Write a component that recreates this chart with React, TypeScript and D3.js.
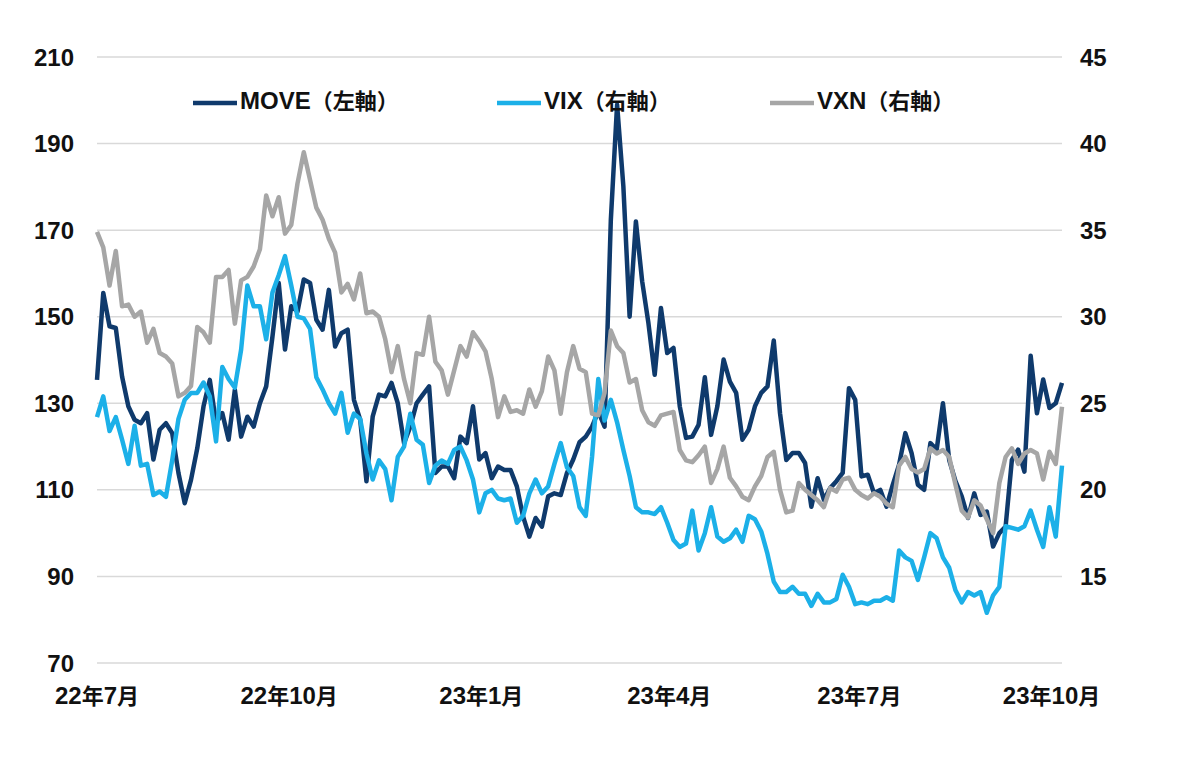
import * as d3 from 'd3';
import * as React from 'react';

// 3-day samples from 2022/7/1
const moveValues = [
  135.4, 155.5, 147.8, 147.4, 136.2, 129.3, 126.2, 125.4, 127.7, 117, 123.9, 125.4, 123.1, 113.9, 106.9,
  112.3, 119.6, 129.3, 135.4, 125.4, 127.7, 121.6, 133.1, 122.3, 126.9, 124.6, 130, 133.9, 145.4, 157.8,
  142.4, 152.4, 151.2, 158.6, 157.8, 149.3, 147, 156.2, 143.1, 146.2, 147, 130.8, 126.2, 112, 127,
  132, 131.6, 134.7, 130, 120.8, 124.6, 130, 132, 133.9, 113.9, 115.4, 115.4, 112.7, 122.3, 120.8,
  129.3, 117, 118.5, 112.7, 115.4, 114.6, 114.6, 110.8, 103.8, 99.2, 103.5, 101.5, 108.5, 109.2, 108.8,
  113.9, 117, 121, 122.3, 124.6, 128.1, 124.6, 172.4, 199, 180.1, 150, 172, 158.2, 148.5, 136.6,
  152, 141.6, 142.8, 129.3, 122, 122.3, 125, 136, 122.7, 129.3, 140.1, 135, 132.4, 121.6, 123.9,
  129.3, 132.4, 133.9, 144.5, 127.7, 116.9, 118.5, 118.5, 116.2, 106.1, 112.7, 107.7, 110.4, 112, 113.9,
  133.5, 130.8, 113.1, 113.5, 109.2, 110, 106.1, 111.2, 115.8, 123.1, 118.5, 111.2, 110, 120.8, 119.3,
  130, 116.9, 112, 108.5, 103.5, 109.2, 104.2, 105, 96.9, 100, 101.5, 116.9, 119.3, 114.2, 141,
  127.7, 135.5, 128.9, 130, 134.7,
];

const vixValues = [
  24.2, 25.4, 23.4, 24.2, 22.9, 21.5, 23.7, 21.4, 21.5, 19.7, 19.9, 19.6, 21.7, 24.1, 25.2,
  25.6, 25.6, 26.2, 25.4, 22.8, 27.1, 26.4, 25.9, 28.1, 31.8, 30.6, 30.6, 28.7, 31.4, 32.4,
  33.5, 31.8, 30.0, 29.9, 29.3, 26.5, 25.8, 25.0, 24.4, 25.6, 23.3, 24.4, 24.1, 22.1, 20.6,
  21.7, 21.2, 19.4, 21.9, 22.5, 24.4, 22.9, 22.6, 20.4, 21.4, 21.7, 21.5, 22.3, 22.5, 21.7,
  20.6, 18.7, 19.8, 20.0, 19.5, 19.4, 19.5, 18.1, 18.5, 19.8, 20.6, 19.8, 20.2, 21.5, 22.7,
  21.3, 20.8, 19.0, 18.5, 21.9, 26.4, 24.0, 25.2, 23.9, 22.3, 20.8, 19.0, 18.7, 18.7, 18.6,
  19.0, 18.1, 17.1, 16.7, 16.9, 18.8, 16.5, 17.5, 19.0, 17.3, 17.0, 17.2, 17.7, 17.0, 18.5,
  18.3, 17.6, 16.3, 14.7, 14.1, 14.1, 14.4, 14.0, 14.0, 13.3, 14.0, 13.5, 13.5, 13.7, 15.1,
  14.4, 13.4, 13.5, 13.4, 13.6, 13.6, 13.8, 13.6, 16.5, 16.1, 15.9, 14.8, 16.1, 17.5, 17.2,
  16.1, 15.5, 14.2, 13.5, 14.1, 13.9, 14.1, 12.9, 13.9, 14.4, 17.9, 17.8, 17.7, 17.9, 18.8,
  17.7, 16.7, 19.0, 17.3, 21.4,
];

const vxnValues = [
  34.9, 34.0, 31.8, 33.8, 30.6, 30.7, 30.0, 30.3, 28.5, 29.3, 27.9, 27.7, 27.3, 25.4, 25.6,
  26.0, 29.4, 29.1, 28.5, 32.3, 32.3, 32.7, 29.6, 32.1, 32.3, 32.9, 33.9, 37.0, 35.8, 36.9,
  34.8, 35.3, 37.7, 39.5, 37.9, 36.3, 35.6, 34.5, 33.7, 31.4, 31.9, 31.0, 32.5, 30.2, 30.3,
  30.0, 28.7, 26.8, 28.3, 26.4, 25.0, 27.9, 27.8, 30.0, 27.4, 26.9, 25.5, 26.9, 28.3, 27.7,
  29.1, 28.6, 28.0, 26.4, 24.2, 25.4, 24.5, 24.6, 24.4, 25.8, 24.8, 25.7, 27.7, 26.9, 24.4,
  26.8, 28.3, 27.0, 26.8, 24.4, 24.3, 25.6, 29.2, 28.3, 27.9, 26.2, 26.4, 24.6, 23.9, 23.7,
  24.3, 24.4, 24.5, 22.3, 21.7, 21.6, 22.0, 22.5, 20.4, 21.2, 22.5, 20.7, 20.2, 19.6, 19.4,
  20.2, 20.8, 21.9, 22.2, 20.0, 18.7, 18.8, 20.4, 20.0, 19.7, 19.4, 19.0, 20.1, 19.9, 20.6,
  20.7, 20.0, 19.7, 19.5, 19.8, 19.6, 19.2, 19.0, 21.4, 21.9, 21.2, 21.0, 21.2, 22.4, 22.1,
  22.3, 21.9, 20.3, 18.8, 18.4, 19.4, 19.1, 18.3, 17.5, 20.4, 21.9, 22.4, 21.5, 22.1, 22.3,
  22.1, 20.6, 22.2, 21.5, 24.8,
];

const seriesNames = ['MOVE（左軸）', 'VIX（右軸）', 'VXN（右軸）'];
const seriesColors = ['#0f3a6c', '#1cb0e8', '#a6a6a6'];

const leftTicks = [70, 90, 110, 130, 150, 170, 190, 210];
const rightTicks = [15, 20, 25, 30, 35, 40, 45];
const xTickDates = [
  new Date(2022, 6, 1),
  new Date(2022, 9, 1),
  new Date(2023, 0, 1),
  new Date(2023, 3, 1),
  new Date(2023, 6, 1),
  new Date(2023, 9, 1),
];
const xTickLabels = ['22年7月', '22年10月', '23年1月', '23年4月', '23年7月', '23年10月'];

const startDate = new Date(2022, 6, 1);
const endDate = new Date(2023, 9, 6);
const stepDays = 3;

const LATIN = '"Liberation Sans", Arial, sans-serif';
const CJK = '"Noto Sans CJK JP", "Noto Sans CJK SC", sans-serif';

// latin runs a bit larger than the kanji, like Arial mixed with a JP font
const MixedText = ({ str, latinSize, cjkSize }) => {
  const runs = str.match(/[\x00-\x7f]+|[^\x00-\x7f]+/g) || [];
  return (
    <>
      {runs.map((r, i) => {
        const ascii = /^[\x00-\x7f]/.test(r);
        return (
          <tspan key={i} fontFamily={ascii ? LATIN : CJK} fontSize={ascii ? latinSize : cjkSize}>
            {r}
          </tspan>
        );
      })}
    </>
  );
};

const App = () => {
  const width = 1200;
  const height = 762;

  const x = d3.scaleTime().domain([startDate, endDate]).range([97, 1062]);
  const yLeft = d3.scaleLinear().domain([70, 210]).range([663, 57]);
  const yRight = d3.scaleLinear().domain([10, 45]).range([663, 57]);

  const dates = moveValues.map((_, i) => d3.timeDay.offset(startDate, i * stepDays));

  const lineLeft = d3
    .line<number>()
    .x((_, i) => x(dates[i]))
    .y((d) => yLeft(d));
  const lineRight = d3
    .line<number>()
    .x((_, i) => x(dates[i]))
    .y((d) => yRight(d));

  const paths = [lineLeft(moveValues), lineRight(vixValues), lineRight(vxnValues)];
  const legendX = [193, 497, 770];

  return (
    <svg
      width={width}
      height={height}
      style={{ position: 'absolute', left: 0, top: 0, background: '#fff' }}
      fontFamily={LATIN}
      fontWeight="bold"
    >
      {leftTicks.map((t) => (
        <line key={t} x1={97} x2={1062} y1={yLeft(t)} y2={yLeft(t)} stroke="#d9d9d9" strokeWidth={1.5} />
      ))}
      {leftTicks.map((t) => (
        <text key={t} x={74} y={yLeft(t)} dy="0.36em" textAnchor="end" fontSize={24} fill="#111">
          {t}
        </text>
      ))}
      {rightTicks.map((t) => (
        <text key={t} x={1080} y={yRight(t)} dy="0.36em" textAnchor="start" fontSize={24} fill="#111">
          {t}
        </text>
      ))}
      {xTickDates.map((d, i) => (
        <text key={i} x={x(d)} y={704} textAnchor="middle" fill="#111">
          <MixedText str={xTickLabels[i]} latinSize={24} cjkSize={22} />
        </text>
      ))}

      {paths.map((p, i) => (
        <path key={i} d={p || ''} fill="none" stroke={seriesColors[i]} strokeWidth={4.5} strokeLinejoin="round" />
      ))}

      {seriesNames.map((name, i) => (
        <g key={name}>
          <line x1={legendX[i]} x2={legendX[i] + 44} y1={103} y2={103} stroke={seriesColors[i]} strokeWidth={4.5} />
          <text x={legendX[i] + 47} y={103} dy="0.36em" fill="#111">
            <MixedText str={name} latinSize={24} cjkSize={22} />
          </text>
        </g>
      ))}
    </svg>
  );
};

export default App;
